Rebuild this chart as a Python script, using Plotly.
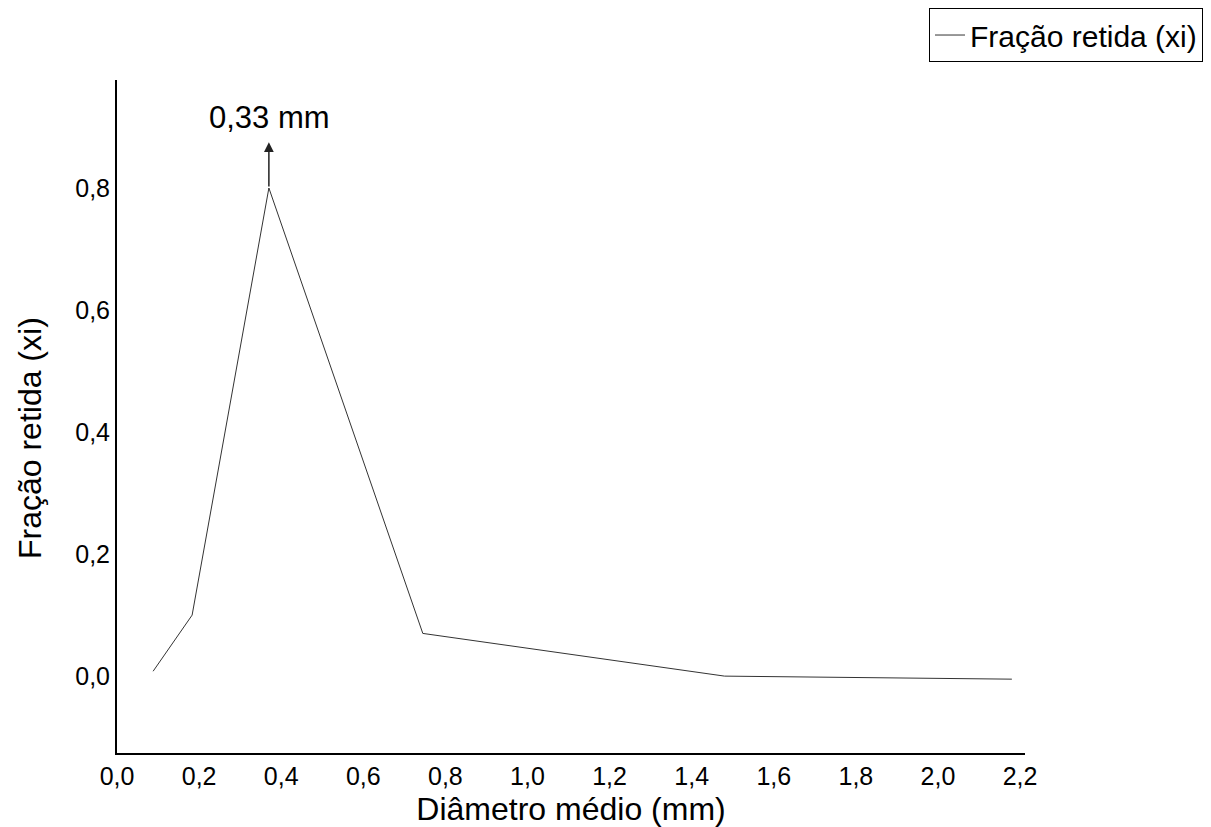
import plotly.graph_objects as go

diametro = [0.088, 0.183, 0.37, 0.745, 1.48, 2.18]
fracao = [0.008, 0.10, 0.80, 0.07, 0.0, -0.005]
x_ticks = [0.0, 0.2, 0.4, 0.6, 0.8, 1.0, 1.2, 1.4, 1.6, 1.8, 2.0, 2.2]
y_ticks = [0.0, 0.2, 0.4, 0.6, 0.8]
peak_label = "0,33 mm"
y_title = "Fração retida (xi)"
x_title = "Diâmetro médio (mm)"

font = "Liberation Sans, Arial, sans-serif"

fig = go.Figure()
fig.add_trace(go.Scatter(x=diametro, y=fracao, mode="lines", name="Fração retida (xi)",
                         line=dict(color="#333333", width=1)))

fig.add_annotation(x=diametro[2], y=0.875, ax=diametro[2], ay=fracao[2], xref="x", yref="y",
                   axref="x", ayref="y", text="", showarrow=True, arrowhead=2, arrowsize=1.3,
                   arrowwidth=1.5, arrowcolor="#222222")
fig.add_annotation(x=0.372, y=0.915, xref="x", yref="y", text=peak_label, showarrow=False,
                   font=dict(size=31, color="black", family=font))
fig.add_annotation(x=-0.0958, y=0.468, xref="paper", yref="paper", text=y_title,
                   textangle=-90, showarrow=False, xanchor="center", yanchor="middle",
                   font=dict(size=32, color="black", family=font))

fig.update_layout(
    width=1211, height=827,
    paper_bgcolor="white", plot_bgcolor="white",
    margin=dict(l=117, r=186, t=80, b=74, autoexpand=False),
    separators=",.",
    font=dict(family=font, color="black"),
    showlegend=True,
    legend=dict(x=0.9934, y=0.9903, xref="container", yref="container",
                xanchor="right", yanchor="top", bordercolor="black",
                borderwidth=1, font=dict(size=30, family=font), bgcolor="white",
                tracegroupgap=0),
    xaxis=dict(range=[0, 2.212], tickvals=x_ticks, tickformat=".1f", showgrid=False,
               zeroline=False, showline=True, linecolor="black", linewidth=2,
               ticks="", tickfont=dict(size=25), automargin=False,
               title=dict(text=x_title, font=dict(size=32), standoff=10)),
    yaxis=dict(range=[-0.126, 0.977], tickvals=y_ticks, tickformat=".1f", showgrid=False,
               zeroline=False, showline=True, linecolor="black", linewidth=2,
               ticks="", tickfont=dict(size=25), automargin=False),
)

fig.write_html("out.html")
